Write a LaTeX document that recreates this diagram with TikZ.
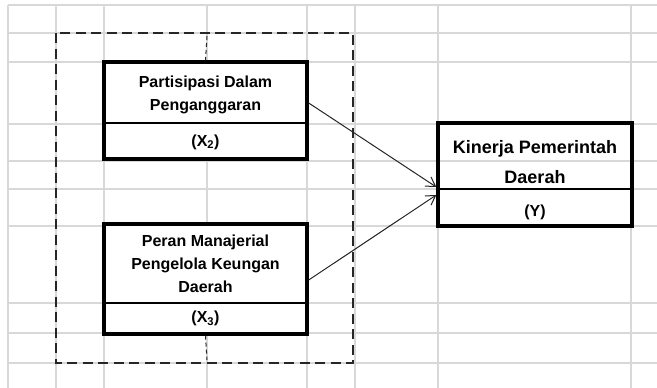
\documentclass[tikz,border=0pt]{standalone}
\usepackage{fontspec}
\setmainfont{Liberation Sans}
\usetikzlibrary{arrows.meta}
\definecolor{gridgray}{HTML}{D8D8D8}
\definecolor{dashgray}{HTML}{262626}
\tikzset{
  gridline/.style={draw=gridgray, line width=1.5pt},
  varbox/.style={draw=black, line width=3.4pt, fill=white},
  openbox/.style={draw=black, line width=3.4pt},
  divline/.style={draw=black, line width=1.4pt},
  groupbox/.style={draw=dashgray, line width=2.6pt, dash pattern=on 10pt off 5.5pt},
  centerdash/.style={draw=dashgray, line width=1pt, dash pattern=on 4pt off 3pt},
  lbl/.style={align=center, font=\fontsize{16}{23}\selectfont\bfseries, inner sep=0pt},
  lblbig/.style={align=center, font=\fontsize{18}{30}\selectfont\bfseries, inner sep=0pt},
  conn/.style={draw=black!85, line width=1pt, -{Straight Barb[length=9pt,width=11pt]}}
}
\begin{document}
\begin{tikzpicture}[x=1pt,y=-1pt]
\useasboundingbox (0,0) rectangle (657,388);
% spreadsheet grid
\foreach \gx in {8,56,104,207,307,355,438,631}
  \draw[gridline] (\gx,5) -- (\gx,388);
\foreach \gy in {5,33,62,124,161,189,226,303,333,363}
  \draw[gridline] (8,\gy) -- (657,\gy);
% dashed group
\draw[groupbox] (56,33) rectangle (353,363);
% variable boxes
\node[varbox, minimum width=203pt, minimum height=97pt, inner sep=0pt] (x2) at (205.5,110.5) {};
\node[varbox, minimum width=203pt, minimum height=110pt, inner sep=0pt] (x3) at (205.5,279) {};
\node[openbox, minimum width=194pt, minimum height=103pt, inner sep=0pt] (y) at (535,174.5) {};
\draw[divline] (x2.west |- 0,123) -- (x2.east |- 0,123);
\draw[divline] (x3.west |- 0,303) -- (x3.east |- 0,303);
\draw[divline] (y.west |- 0,189) -- (y.east |- 0,189);
% center dashes
\draw[centerdash] (207,36) -- (x2.north);
\draw[centerdash] (x3.south) -- (207,360);
% texts
\node[lbl] (t2) at (205.5,95) {Partisipasi Dalam\\Penganggaran};
\node[lbl] (s2) at (205.5,142) {(X\textsubscript{2})};
\node[lbl] (t3) at (205.5,263.5) {Peran Manajerial\\Pengelola Keungan\\Daerah};
\node[lbl] (s3) at (205.5,318.5) {(X\textsubscript{3})};
\node[lblbig] (ty) at (535,162) {Kinerja Pemerintah\\Daerah};
\node[lbl] (sy) at (535,212) {(Y)};
% connectors
\draw[conn] ([yshift=7.5pt]x2.east) -- ([yshift=-12.5pt]y.west);
\draw[conn] ([yshift=-1pt]x3.east) -- ([yshift=-20.5pt]y.west);
\end{tikzpicture}
\end{document}
